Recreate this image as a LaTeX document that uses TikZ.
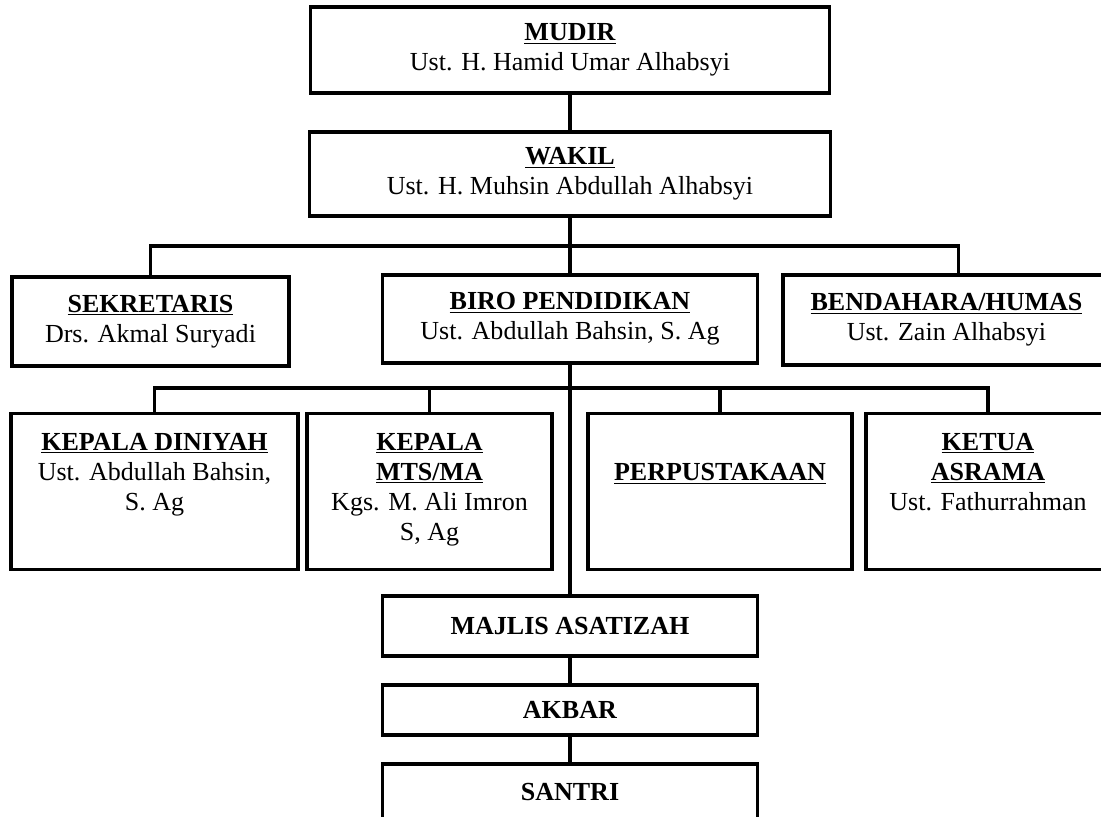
\documentclass[tikz,border=0pt]{standalone}
\usepackage{fontspec}
\setmainfont{Liberation Serif}
\usetikzlibrary{positioning}

\begin{document}
\begin{tikzpicture}[
    x=0.025cm, y=-0.025cm,
    unit/.style={rectangle, draw=black, line width=2.2pt, inner sep=0pt, align=center, font=\fontsize{18.5}{21.3}\selectfont},
    tallunit/.style={unit, align=flush center, anchor=north, text width=#1, text height=0.925cm, text depth=2.975cm},
    connector/.style={line width=2.2pt}
]
    \useasboundingbox (0,0) rectangle (1101,817);

    \node (mudir) [unit, minimum width=12.95cm, minimum height=2.15cm] at (570,50) {\textbf{\underline{MUDIR}}\\Ust. H. Hamid Umar Alhabsyi};
    \node (wakil) [unit, minimum width=13cm, minimum height=2.1cm] at (570,174) {\textbf{\underline{WAKIL}}\\Ust. H. Muhsin Abdullah Alhabsyi};

    \node (sekretaris) [unit, minimum width=6.925cm, minimum height=2.225cm] at (150.5,321.5) {\textbf{\underline{SEKRETARIS}}\\Drs. Akmal Suryadi};
    \node (biro) [unit, minimum width=9.375cm, minimum height=2.2cm] at (570,319) {\textbf{\underline{BIRO PENDIDIKAN}}\\Ust. Abdullah Bahsin, S. Ag};
    \node (bendahara) [unit, minimum width=8.175cm, minimum height=2.25cm] at (946.5,320) {\textbf{\underline{BENDAHARA/HUMAS}}\\Ust. Zain Alhabsyi};

    \node (diniyah) [tallunit=7.175cm] at (154.5,412) {\textbf{\underline{KEPALA DINIYAH}}\\Ust. Abdullah Bahsin,\\S. Ag};
    \node (mts) [tallunit=6.125cm] at (429.5,412) {\textbf{\underline{KEPALA}}\\\textbf{\underline{MTS/MA}}\\Kgs. M. Ali Imron\\S, Ag};
    \node (perpus) [tallunit=6.6cm, text height=1.675cm, text depth=2.225cm] at (720,412) {\textbf{\underline{PERPUSTAKAAN}}};
    \node (asrama) [tallunit=6.1cm] at (988,412) {\textbf{\underline{KETUA}}\\\textbf{\underline{ASRAMA}}\\Ust. Fathurrahman};

    \node (majlis) [unit, minimum width=9.375cm, minimum height=1.5cm] at (570,626) {\textbf{MAJLIS ASATIZAH}};
    \node (akbar) [unit, minimum width=9.375cm, minimum height=1.25cm] at (570,710) {\textbf{AKBAR}};
    \node (santri) [unit, minimum width=9.375cm, minimum height=1.4cm] at (570,792) {\textbf{SANTRI}};

    \coordinate (topbus) at (570,246);
    \coordinate (lowbus) at (570,388);

    \draw [connector] (mudir) -- (wakil);
    \draw [connector] (wakil) -- (biro);
    \draw [connector] (sekretaris.north) |- (topbus) -| ([xshift=0.29cm]bendahara.north);
    \draw [connector] (biro) -- (majlis);
    \draw [connector] (diniyah.north) |- (lowbus) -| (asrama.north);
    \draw [connector] (mts.north) -- (mts.north |- lowbus);
    \draw [connector] (perpus.north) -- (perpus.north |- lowbus);
    \draw [connector] (majlis) -- (akbar);
    \draw [connector] (akbar) -- (santri);
\end{tikzpicture}
\end{document}
